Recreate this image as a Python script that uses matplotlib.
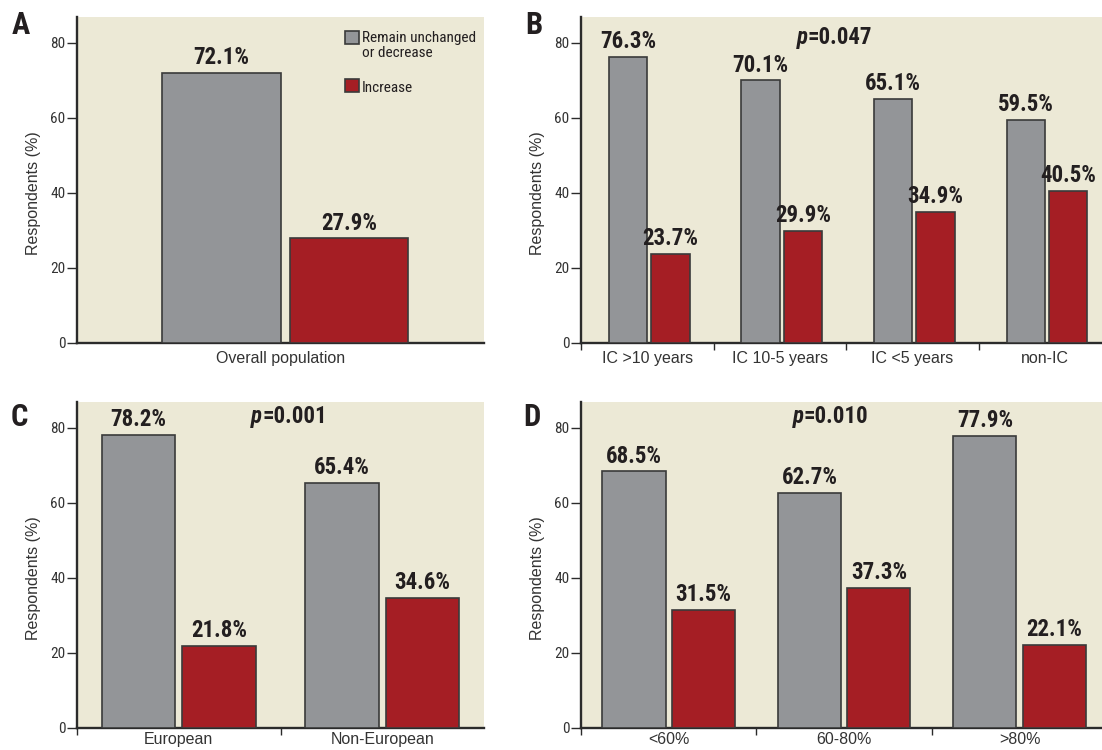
import matplotlib
matplotlib.use('Agg')
import matplotlib.pyplot as plt
from matplotlib import font_manager
from matplotlib.font_manager import FontProperties
from matplotlib.patches import Rectangle
import numpy as np

# survey answers: share of respondents per group (%)
a_groups = ['Overall population']
a_keep = [72.1]
a_incr = [27.9]

b_groups = ['IC >10 years', 'IC 10-5 years', 'IC <5 years', 'non-IC']
b_keep = [76.3, 70.1, 65.1, 59.5]
b_incr = [23.7, 29.9, 34.9, 40.5]
b_pval = '0.047'

c_groups = ['European', 'Non-European']
c_keep = [78.2, 65.4]
c_incr = [21.8, 34.6]
c_pval = '0.001'

d_groups = ['<60%', '60-80%', '>80%']
d_keep = [68.5, 62.7, 77.9]
d_incr = [31.5, 37.3, 22.1]
d_pval = '0.010'

legend_labels = ['Remain unchanged\nor decrease', 'Increase']

GREY = '#939598'
RED = '#a51e24'
EDGE = '#3a3a3a'
BG = '#ece9d6'
INK = '#231f20'
PLAIN = 'Liberation Sans'


def narrow_font(bold=False, italic=False):
    """Find a condensed face on this machine, best guess first."""
    fonts = font_manager.fontManager.ttflist

    def is_bold(f):
        w = f.weight
        return (w >= 600) if isinstance(w, int) else w in ('bold', 'heavy', 'black', 'semibold', 'demibold')

    def ok(f):
        return is_bold(f) == bold and ((f.style != 'normal') == italic)

    prefs = [
        lambda f: f.name == 'Liberation Sans Narrow',
        lambda f: f.name == 'Roboto Condensed',
        lambda f: 'Condensed' in f.name or 'Narrow' in f.name,
        lambda f: f.name == 'DejaVu Sans' and f.stretch == 'condensed',
    ]
    for pref in prefs:
        hits = [f for f in fonts if pref(f) and ok(f)]
        if hits:
            return hits[0].fname
    if italic:
        return narrow_font(bold=bold)
    return None


def fp(size, bold=False, italic=False):
    path = narrow_font(bold, italic)
    if path is None:
        return FontProperties(family='Liberation Sans', size=size,
                              weight='bold' if bold else 'normal',
                              style='italic' if italic else 'normal')
    return FontProperties(fname=path, size=size)


W, H = 1102, 750
fig = plt.figure(figsize=(W / 100, H / 100), dpi=100)


def px_axes(left, top, right, bottom):
    return fig.add_axes([left / W, 1 - bottom / H, (right - left) / W, (bottom - top) / H])


def draw_panel(ax, groups, keep, incr, xmax, width, offs, pval=None, pxy=None,
               seps=True, labelpad=6, ylab_x=-0.09):
    x = np.arange(len(groups))
    ax.set_facecolor(BG)
    ax.bar(x + offs[0], keep, width, color=GREY, edgecolor=EDGE, linewidth=1.2, zorder=3)
    ax.bar(x + offs[1], incr, width, color=RED, edgecolor=EDGE, linewidth=1.2, zorder=3)
    for xs, vals in ((x + offs[0], keep), (x + offs[1], incr)):
        for xi, v in zip(xs, vals):
            ax.annotate(f'{v:.1f}%', (xi, v), xytext=(0, 2.5), textcoords='offset points',
                        ha='center', va='bottom', color=INK,
                        fontproperties=fp(16.5, bold=True))
    ax.set_xlim(-0.5, xmax)
    ax.set_ylim(0, 87)
    for s in ('top', 'right'):
        ax.spines[s].set_visible(False)
    for s in ('left', 'bottom'):
        ax.spines[s].set_linewidth(1.7)
        ax.spines[s].set_color('#2b2b2b')
    ax.set_yticks([0, 20, 40, 60, 80])
    ax.tick_params(axis='y', direction='out', length=7, width=1, color='#2b2b2b',
                   pad=1.5, labelcolor='#333333')
    for lab in ax.get_yticklabels():
        lab.set_fontproperties(fp(11))
    ax.set_xticks(x)
    ax.set_xticklabels(groups, fontsize=11.5, family=PLAIN, color='#333333')
    ax.tick_params(axis='x', which='major', length=0, pad=labelpad)
    if seps:
        ax.set_xticks(np.arange(-0.5, xmax, 1.0), minor=True)
        ax.tick_params(axis='x', which='minor', direction='out', length=5, width=1,
                       color='#2b2b2b')
    ax.set_ylabel('Respondents (%)', fontsize=11.5, family=PLAIN, color='#333333')
    ax.yaxis.set_label_coords(ylab_x, 40 / 87)
    if pval is not None:
        ax.text(pxy[0], pxy[1], 'p', ha='right', va='center', color=INK,
                fontproperties=fp(16.5, bold=True, italic=True))
        ax.text(pxy[0], pxy[1], '=' + pval, ha='left', va='center', color=INK,
                fontproperties=fp(16.5, bold=True))


ax_a = px_axes(77, 16.7, 484, 342.7)
ax_b = px_axes(581, 16.7, 1102, 342.7)
ax_c = px_axes(77, 401.7, 484, 727.5)
ax_d = px_axes(581, 401.7, 1102, 727.5)

draw_panel(ax_a, a_groups, a_keep, a_incr, 0.5, 0.29, (-0.145, 0.168),
           seps=False, labelpad=6, ylab_x=-0.088)
draw_panel(ax_b, b_groups, b_keep, b_incr, 3.43, 0.29, (-0.145, 0.175),
           pval=b_pval, pxy=(1.21, 81.5), labelpad=6, ylab_x=-0.069)
draw_panel(ax_c, c_groups, c_keep, c_incr, 1.5, 0.36, (-0.198, 0.198),
           pval=c_pval, pxy=(0.41, 83), labelpad=3, ylab_x=-0.088)
draw_panel(ax_d, d_groups, d_keep, d_incr, 2.47, 0.36, (-0.198, 0.198),
           pval=d_pval, pxy=(0.77, 83), labelpad=3, ylab_x=-0.069)

# legend drawn as boxes plus text in panel A
for (y0, col) in ((0.916, GREY), (0.769, RED)):
    ax_a.add_patch(Rectangle((0.658, y0), 0.035, 0.04, transform=ax_a.transAxes,
                             facecolor=col, edgecolor=EDGE, linewidth=1.2, zorder=4))
ax_a.text(0.700, 0.955, legend_labels[0], transform=ax_a.transAxes, ha='left', va='top',
          linespacing=1.05, color=INK, fontproperties=fp(11))
ax_a.text(0.700, 0.782, legend_labels[1], transform=ax_a.transAxes, ha='left', va='center',
          color=INK, fontproperties=fp(11))

# panel letters
for letter, (lx, ly) in zip('ABCD', ((12, 10), (525, 10), (11, 402), (523, 402))):
    fig.text(lx / W, 1 - ly / H, letter, ha='left', va='top', color=INK,
             fontproperties=fp(22, bold=True))

fig.savefig('out.png', dpi=100)
